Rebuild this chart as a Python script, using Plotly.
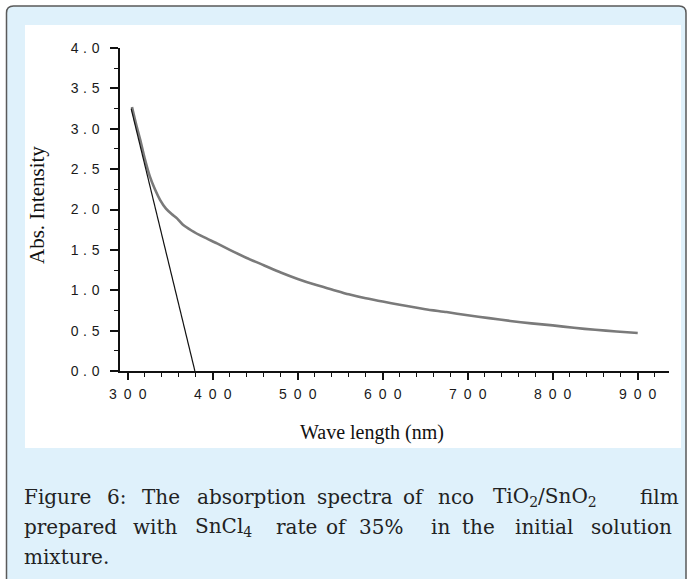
import plotly.graph_objects as go

# ---- data ----
wavelength = [305, 310, 315, 320, 326, 332, 338, 345, 352, 358, 365, 375, 389, 405, 420,
              440, 460, 480, 500, 520, 540, 560, 580, 600, 620, 650, 675, 700, 725, 750,
              775, 800, 825, 850, 875, 900]
absorbance = [3.27, 3.05, 2.85, 2.63, 2.41, 2.25, 2.12, 2.01, 1.94, 1.89, 1.81, 1.74, 1.66,
              1.58, 1.50, 1.40, 1.31, 1.22, 1.14, 1.07, 1.01, 0.95, 0.90, 0.86, 0.82, 0.765,
              0.73, 0.69, 0.655, 0.62, 0.59, 0.565, 0.535, 0.51, 0.49, 0.47]
tangent_x = [304, 379]
tangent_y = [3.25, 0.0]

x_ticks = [300, 400, 500, 600, 700, 800, 900]
y_ticks = [0.0, 0.5, 1.0, 1.5, 2.0, 2.5, 3.0, 3.5, 4.0]
x_title = "Wave length (nm)"
y_title = "Abs. Intensity"
caption_lines = [
    ["Figure", "6:", "The", "absorption", "spectra", "of", "nco",
     "TiO<sub>2</sub>/SnO<sub>2</sub>", "film"],
    ["prepared", "with", "SnCl<sub>4</sub>", "rate", "of", "35%", "in", "the",
     "initial", "solution"],
    ["mixture."],
]

# ---- layout geometry (pixels) ----
W, H = 687, 579
ML, MR, MT, MB = 120, 18, 48, 208
PW = W - ML - MR
PH = H - MT - MB


def px(xp):
    return (xp - ML) / PW


def py(yp):
    return (H - MB - yp) / PH


fig = go.Figure()
fig.add_trace(go.Scatter(x=wavelength, y=absorbance, mode="lines",
                         line=dict(color="#7a7a7a", width=2.6, shape="spline", smoothing=0.6),
                         showlegend=False, hoverinfo="skip"))
fig.add_trace(go.Scatter(x=tangent_x, y=tangent_y, mode="lines",
                         line=dict(color="#111111", width=1.2), showlegend=False,
                         hoverinfo="skip"))


def spaced_x(s):
    return "\u2002".join(list(s))


def spaced_y(s):
    return "\u2004".join(list(s))


# card background with rounded corners
r = 7
L, T, R, B = 6.5, 6, 686, 590
path = (f"M {px(L)},{py(B)} L {px(L)},{py(T + r)} Q {px(L)},{py(T)} {px(L + r)},{py(T)} "
        f"L {px(R - r)},{py(T)} Q {px(R)},{py(T)} {px(R)},{py(T + r)} L {px(R)},{py(B)} Z")
shapes = [
    dict(type="path", xref="paper", yref="paper", path=path, fillcolor="#dff1fb",
         line=dict(color="#5a5a5a", width=1.5), layer="below"),
    dict(type="rect", xref="paper", yref="paper", x0=px(25), x1=px(681), y0=py(448), y1=py(25),
         fillcolor="#ffffff", line=dict(width=0), layer="below"),
]

annotations = [
    dict(text=y_title, x=px(37), y=py(205), xref="paper", yref="paper", showarrow=False,
         textangle=-90, font=dict(family="Liberation Serif", size=21, color="#111111"),
         xanchor="center", yanchor="middle"),
    dict(text=x_title, x=px(372), y=py(432), xref="paper", yref="paper", showarrow=False,
         font=dict(family="Liberation Serif", size=20, color="#111111"),
         xanchor="center", yanchor="middle"),
]

word_starts = [
    [22, 105, 140, 195, 315, 401, 436, 491, 638],
    [22, 131, 193, 274, 324, 357, 429, 460, 513, 589],
    [22],
]
line_y = [497, 527, 557]
for words, starts, yy in zip(caption_lines, word_starts, line_y):
    for w, xs in zip(words, starts):
        annotations.append(dict(text=w, x=px(xs), y=py(yy), xref="paper", yref="paper",
                                showarrow=False, xanchor="left", yanchor="middle",
                                font=dict(family="DejaVu Serif", size=20, color="#222222")))

fig.update_layout(
    width=W, height=H,
    margin=dict(l=ML, r=MR, t=MT, b=MB, pad=0),
    paper_bgcolor="#ffffff", plot_bgcolor="rgba(0,0,0,0)",
    shapes=shapes, annotations=annotations,
    xaxis=dict(range=[290.9, 936.8], tickvals=x_ticks, ticktext=[spaced_x(str(v)) for v in x_ticks],
               showgrid=False, zeroline=False, showline=True, linecolor="#111111", linewidth=1.5,
               ticks="outside", ticklen=7, tickwidth=1.5, tickcolor="#111111",
               tickfont=dict(family="Liberation Sans", size=14, color="#1a1a1a"),
               ticklabelstandoff=2,
               minor=dict(dtick=20, tick0=300, ticks="outside", ticklen=4, tickwidth=1.3,
                          tickcolor="#111111", showgrid=False),
               fixedrange=True),
    yaxis=dict(range=[0, 4.0], tickvals=y_ticks, ticktext=[spaced_y(f"{v:.1f}") for v in y_ticks],
               showgrid=False, zeroline=False, showline=True, linecolor="#111111", linewidth=1.5,
               ticks="outside", ticklen=8, tickwidth=1.5, tickcolor="#111111",
               tickfont=dict(family="Liberation Sans", size=14, color="#1a1a1a"),
               ticklabelstandoff=8,
               minor=dict(dtick=0.25, tick0=0, ticks="outside", ticklen=4, tickwidth=1.3,
                          tickcolor="#111111", showgrid=False),
               fixedrange=True),
)

fig.write_html("out.html", config={"displayModeBar": False},
               post_script="document.body.style.margin='0px';document.body.style.overflow='hidden';")
